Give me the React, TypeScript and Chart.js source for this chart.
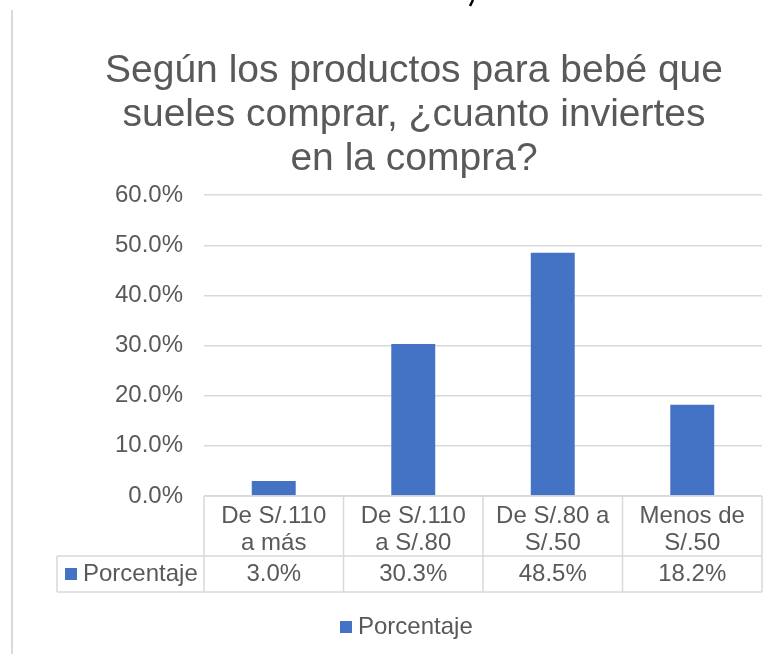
import React, { useEffect, useRef } from "react";
import { Chart, registerables } from "chart.js";

Chart.register(...registerables);

const FONT = "'Liberation Sans', Arial, sans-serif";
const TEXT = "#595959";
const GRID = "#d9d9d9";
const BAR = "#4472C4";

const titleLines = [
  "Según los productos para bebé que",
  "sueles comprar, ¿cuanto inviertes",
  "en la compra?",
];
const categories = [
  ["De S/.110", "a más"],
  ["De S/.110", "a S/.80"],
  ["De S/.80 a", "S/.50"],
  ["Menos de", "S/.50"],
];
const seriesName = "Porcentaje";
const values = [0.03, 0.303, 0.485, 0.182];
const yMin = 0;
const yMax = 0.6;
const yStep = 0.1;

const fmtPct = (v: number) => (v * 100).toFixed(1) + "%";

const tablePlugin = {
  id: "dataTable",
  afterDraw(chart: any) {
    const { ctx, chartArea } = chart;
    const x = chart.scales.x;
    const n = values.length;
    const catW = (chartArea.right - chartArea.left) / n;
    const top = chartArea.bottom;
    const row1 = top + 60;
    const row2 = row1 + 36;
    const leftCol = 57;

    const line = (x1: number, y1: number, x2: number, y2: number) => {
      ctx.beginPath();
      ctx.moveTo(x1, y1);
      ctx.lineTo(x2, y2);
      ctx.stroke();
    };

    ctx.save();
    // page artifacts
    ctx.strokeStyle = GRID;
    ctx.lineWidth = 2;
    line(12, 10, 12, chart.height);
    ctx.strokeStyle = "#000";
    ctx.lineWidth = 2.5;
    line(473, 0, 470, 6);

    // table grid
    ctx.strokeStyle = GRID;
    ctx.lineWidth = 1.5;
    line(chartArea.left, top, chartArea.right, top);
    line(leftCol, row1, chartArea.right, row1);
    line(leftCol, row2, chartArea.right, row2);
    for (let i = 0; i <= n; i++) {
      const xi = chartArea.left + i * catW;
      line(xi, top, xi, row2);
    }
    line(leftCol, row1, leftCol, row2);

    // texts
    ctx.fillStyle = TEXT;
    ctx.font = `24px ${FONT}`;
    ctx.textAlign = "center";
    ctx.textBaseline = "middle";
    for (let i = 0; i < n; i++) {
      const cx = x.getPixelForValue(i);
      categories[i].forEach((t, j) => ctx.fillText(t, cx, top + 20 + j * 27));
      ctx.fillText(fmtPct(values[i]), cx, row1 + 18);
    }

    // series key in table
    ctx.fillStyle = BAR;
    ctx.fillRect(65, row1 + 12, 12, 12);
    ctx.fillStyle = TEXT;
    ctx.textAlign = "left";
    ctx.fillText(seriesName, 83, row1 + 18);

    // legend
    const ly = row2 + 35;
    ctx.fillStyle = BAR;
    ctx.fillRect(340, ly - 6, 12, 12);
    ctx.fillStyle = TEXT;
    ctx.fillText(seriesName, 358, ly);
    ctx.restore();
  },
};

export default function App() {
  const ref = useRef<HTMLCanvasElement>(null);
  useEffect(() => {
    document.body.style.margin = "0";
    const chart = new Chart(ref.current!, {
      type: "bar",
      data: {
        labels: categories as any,
        datasets: [
          {
            label: seriesName,
            data: values,
            backgroundColor: BAR,
            barPercentage: 0.315,
            categoryPercentage: 1,
          },
        ],
      },
      options: {
        responsive: false,
        animation: false,
        layout: { padding: { left: 66, right: 17, top: 0, bottom: 0 } },
        plugins: {
          legend: { display: false },
          tooltip: { enabled: false },
          title: {
            display: true,
            text: titleLines,
            color: TEXT,
            font: { family: FONT, size: 39, weight: "normal", lineHeight: 1.13 },
            padding: { top: 49, bottom: 14 },
          },
        },
        scales: {
          x: {
            offset: true,
            grid: { display: false },
            border: { display: false },
            ticks: { display: false },
            afterFit: (s: any) => {
              s.height = 158;
            },
          },
          y: {
            min: yMin,
            max: yMax,
            ticks: {
              stepSize: yStep,
              callback: (v: any) => fmtPct(Number(v)),
              color: TEXT,
              font: { family: FONT, size: 24 },
              padding: 21,
            },
            grid: { color: GRID, lineWidth: 1.5, drawTicks: false },
            border: { display: false },
            afterFit: (s: any) => {
              s.width = 138;
            },
          },
        },
      },
      plugins: [tablePlugin],
    });
    return () => chart.destroy();
  }, []);
  return <canvas ref={ref} width={779} height={654} style={{ display: "block" }} />;
}
